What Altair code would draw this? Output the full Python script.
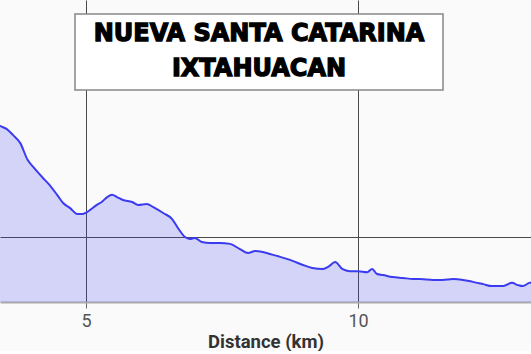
import altair as alt
import pandas as pd

distance_km = [3.30, 3.42, 3.54, 3.66, 3.79, 3.93, 4.03, 4.21, 4.30, 4.47, 4.58, 4.71, 4.84, 4.93,
               5.02, 5.20, 5.29, 5.39, 5.48, 5.57, 5.68, 5.85, 5.96, 6.12, 6.23, 6.42, 6.58,
               6.69, 6.82, 6.91, 7.00, 7.13, 7.28, 7.46, 7.65, 7.83, 7.98, 8.11, 8.25, 8.38,
               8.57, 8.81, 8.99, 9.16, 9.36, 9.45, 9.58, 9.71, 9.85, 10.00, 10.17, 10.26,
               10.35, 10.46, 10.63, 10.83, 11.01, 11.14, 11.38, 11.55, 11.75, 11.93, 12.11,
               12.30, 12.46, 12.67, 12.83, 12.94, 13.03, 13.16, 13.25]
elevation_m = [1952, 1942, 1933, 1914, 1890, 1837, 1816, 1782, 1766, 1730, 1705, 1689, 1671, 1671,
               1677, 1699, 1708, 1723, 1730, 1723, 1714, 1708, 1699, 1702, 1693, 1674, 1656,
               1628, 1600, 1594, 1597, 1585, 1582, 1582, 1579, 1563, 1551, 1557, 1554, 1548,
               1539, 1526, 1514, 1505, 1502, 1508, 1523, 1502, 1495, 1495, 1492, 1502,
               1486, 1483, 1477, 1474, 1471, 1471, 1468, 1468, 1471, 1468, 1462,
               1455, 1449, 1449, 1459, 1452, 1449, 1459, 1459]
x_ticks = [5, 10]
y_grid = [1600]
title_lines = ["NUEVA SANTA CATARINA", "IXTAHUACAN"]

profile = pd.DataFrame({"km": distance_km, "elev": elevation_m})

x_enc = alt.X("km:Q", scale=alt.Scale(domain=[3.42, 13.18], nice=False, zero=False),
              axis=alt.Axis(values=x_ticks, format="d", title="Distance (km)", grid=True,
                            gridColor="#4a4a4a", gridWidth=1,
                            labelFontSize=18, labelColor="#555555", labelFont="Roboto",
                            labelPadding=4, tickSize=6, tickColor="#666666",
                            domainColor="#aaaaaa", domainWidth=2,
                            titleFont="Roboto", titleFontSize=18.5, titleFontWeight="bold",
                            titleColor="#333333", titlePadding=2))
y_enc = alt.Y("elev:Q", scale=alt.Scale(domain=[1400, 2330], nice=False, zero=False),
              axis=alt.Axis(values=y_grid, labels=False, ticks=False, domain=False,
                            title=None, grid=True, gridColor="#4a4a4a", gridWidth=1))

area = alt.Chart(profile).mark_area(
    color="#3b3bf0", opacity=0.2, interpolate="monotone", clip=True
).encode(x=x_enc, y=y_enc)

line = alt.Chart(profile).mark_line(
    color="#3b3bf0", strokeWidth=2, interpolate="monotone", clip=True
).encode(x="km:Q", y="elev:Q")

box_df = pd.DataFrame({"k": [0]})
box = alt.Chart(box_df).mark_rect(
    fill="white", stroke="#888888", strokeWidth=1.5
).encode(x=alt.value(75), x2=alt.value(443), y=alt.value(14), y2=alt.value(90))

title_df = pd.DataFrame({"text": title_lines, "pos": [34, 69]})
title_text = alt.Chart(title_df).mark_text(
    font="DejaVu Sans", fontSize=24, fontWeight="bold", color="black",
    stroke="black", strokeWidth=1.3, align="center", baseline="middle"
).encode(x=alt.value(259), y=alt.Y("pos:Q", scale=None), text="text:N")

chart = alt.layer(area, line, box, title_text).properties(
    width=531, height=302, padding=0, background="#fafafa"
).configure_view(stroke=None)

chart.save("out.html", embed_options={"renderer": "svg", "actions": False})
